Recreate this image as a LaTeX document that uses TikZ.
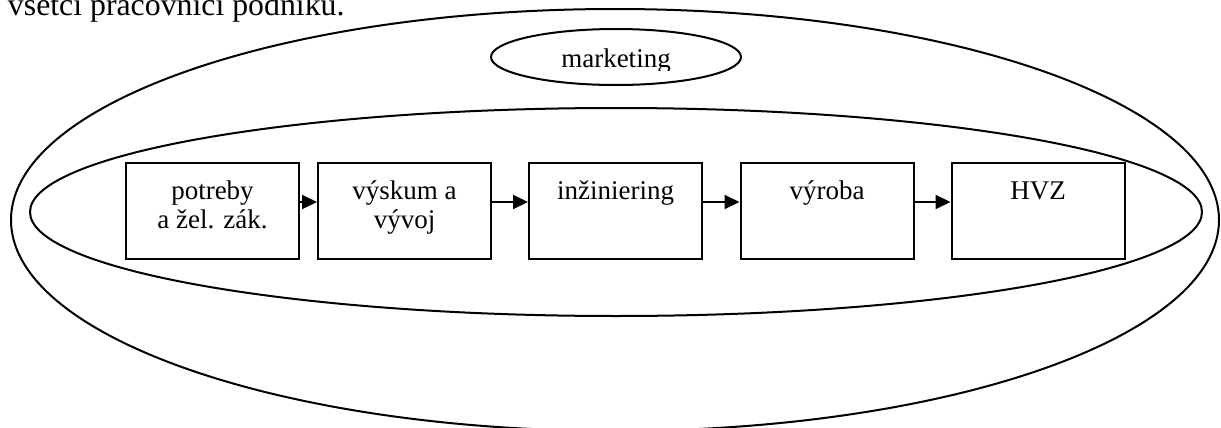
\documentclass[tikz,border=0pt]{standalone}
\usepackage{fontspec}
\setmainfont{Liberation Serif}
\usepackage{tikz}
\usetikzlibrary{arrows.meta,shapes.geometric}
\newcommand{\stagetext}[1]{\parbox[c][48pt][t]{86.5pt}{\centering\rule{0pt}{18pt}#1}}

\begin{document}
\begin{tikzpicture}[x=0.5pt,y=-0.5pt,line width=1pt,
    stage/.style={draw,rectangle,minimum width=86.5pt,minimum height=48pt,inner sep=0pt,
      font=\fontsize{13.5}{14.5}\selectfont},
    flow/.style={-{Triangle[length=7.5pt,width=7pt]}}]
    \useasboundingbox (0,0) rectangle (1221,428);
    \clip (0,0) rectangle (1221,428);
    %line of text cut by the top edge
    \node[anchor=base west,inner sep=0pt,font=\fontsize{15.9}{18}\selectfont] (title) at (7,15) {všetci pracovníci podniku.};
    %outer and inner ring
    \draw (615,220) ellipse [x radius=302pt, y radius=105.5pt];
    \draw (616,212) ellipse [x radius=293pt, y radius=52pt];
    %marketing on top, its text clipped at the bottom
    \node[draw,ellipse,minimum width=125pt,minimum height=28pt,inner sep=0pt] (mkt) at (616,57) {};
    \begin{scope}
        \clip (480,20) rectangle (760,70);
        \node[anchor=base,inner sep=0pt,font=\fontsize{13.5}{14.5}\selectfont] (mkttext) at (616,68) {marketing};
    \end{scope}
    %the chain
    \node[stage] (potreby) at (212.5,211) {\stagetext{potreby\\a žel. zák.}};
    \node[stage] (vyskum) at (404.5,211) {\stagetext{výskum a\\vývoj}};
    \node[stage] (inzin) at (615.5,211) {\stagetext{inžiniering}};
    \node[stage] (vyroba) at (827,211) {\stagetext{výroba}};
    \node[stage] (hvz) at (1038,211) {\stagetext{HVZ}};
    \draw[flow] ([yshift=4.5pt]potreby.east) -- ([yshift=4.5pt]vyskum.west);
    \draw[flow] ([yshift=4.5pt]vyskum.east) -- ([yshift=4.5pt]inzin.west);
    \draw[flow] ([yshift=4.5pt]inzin.east) -- ([yshift=4.5pt]vyroba.west);
    \draw[flow] ([yshift=4.5pt]vyroba.east) -- ([yshift=4.5pt]hvz.west);
\end{tikzpicture}
\end{document}
